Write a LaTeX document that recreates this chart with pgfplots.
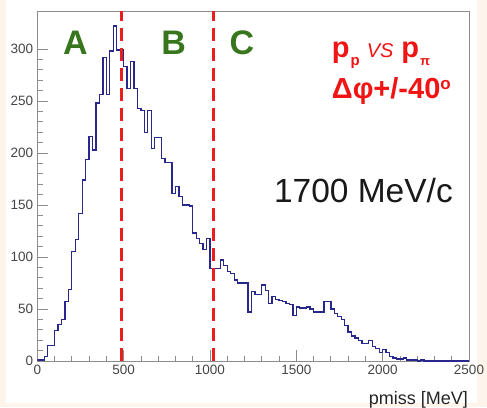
\documentclass[border=0pt]{standalone}
\usepackage{pgfplots}
\usepackage{pgfplotstable}
\pgfplotsset{compat=1.18}
\usepackage{fontspec}
\setmainfont{Liberation Sans}
\definecolor{peach}{RGB}{253,245,236}
\definecolor{histblue}{RGB}{40,40,140}
\definecolor{dgreen}{RGB}{56,118,29}
\definecolor{framegray}{RGB}{140,140,140}
\definecolor{labgray}{RGB}{70,70,70}
\definecolor{dashred}{RGB}{235,30,30}
\definecolor{txtred}{RGB}{240,20,20}

\pgfplotstableread{
x y
0 1
20 1
40 4
60 15
80 15
100 29
120 35
140 40
160 57
180 69
200 105
220 117
240 142
260 174
280 194
300 216
320 203
340 248
360 256
380 292
400 256
420 298
440 322
460 299
480 299
500 283
520 262
540 288
560 262
580 243
600 241
620 220
640 241
660 204
680 215
700 215
720 195
740 191
760 191
780 161
800 168
820 158
840 150
860 150
880 149
900 123
920 118
940 113
960 107
980 118
1000 89
1020 89
1040 89
1060 97
1080 92
1100 86
1120 84
1140 78
1160 75
1180 75
1200 75
1220 47
1240 67
1260 64
1280 64
1300 73
1320 68
1340 55
1360 62
1380 59
1400 58
1420 57
1440 55
1460 54
1480 44
1500 52
1520 51
1540 51
1560 52
1580 50
1600 47
1620 47
1640 47
1660 57
1680 57
1700 50
1720 46
1740 43
1760 40
1780 34
1800 28
1820 24
1840 22
1860 20
1880 17
1900 17
1920 20
1940 14
1960 12
1980 8
2000 11
2020 8
2040 4
2060 3
2080 2
2100 2
2120 3
2140 1
2160 1
2180 1
2200 0
2220 1
2240 0
2260 0
2280 0
2300 0
2320 0
2340 0
2360 0
2380 0
2400 0
2420 0
2440 0
2460 0
2480 0
2500 0
}\hist

\begin{document}
\begin{tikzpicture}[x=1pt,y=1pt]
\fill[peach] (0,0) rectangle (487,407);
\fill[white] (6,4) rectangle (477,407);
\path[use as bounding box] (0,0) rectangle (487,407);
\begin{axis}[
  at={(37.3pt,46pt)}, anchor=south west,
  scale only axis, width=431.7pt, height=350pt,
  xmin=0, xmax=2500, ymin=0, ymax=336.5,
  xtick={0,500,...,2500}, ytick={0,50,...,300},
  minor x tick num=4, minor y tick num=4,
  xtick pos=bottom, ytick pos=left,
  tick align=inside,
  major tick length=11pt, minor tick length=5.5pt,
  axis line style={framegray, line width=0.8pt},
  every tick/.style={framegray, line width=0.8pt},
  tick label style={font=\fontsize{13.5}{16}\selectfont, text=labgray, inner sep=0pt},
  xticklabel style={yshift=-4pt},
  yticklabel style={xshift=-4pt},
  /pgf/number format/assume math mode=true,
  /pgf/number format/1000 sep={},
  xlabel={pmiss [MeV]},
  xlabel style={at={(axis description cs:1,0)}, anchor=north east, inner sep=0pt, yshift=-30pt, xshift=-1pt, font=\fontsize{18}{20}\selectfont, text=black!85},
]
\addplot[histblue, line width=1.3pt, const plot mark left] table[x=x,y=y]{\hist};
\addplot[dashred, line width=3pt, dash pattern=on 13pt off 7pt] coordinates {(487,0) (487,336.5)};
\addplot[dashred, line width=3pt, dash pattern=on 13pt off 7pt] coordinates {(1020,0) (1020,336.5)};
\end{axis}
\node[inner sep=0pt, text=dgreen, font=\fontsize{34}{36}\selectfont\bfseries] at (75.5,364) {A};
\node[inner sep=0pt, text=dgreen, font=\fontsize{34}{36}\selectfont\bfseries] at (173.7,364) {B};
\node[inner sep=0pt, text=dgreen, font=\fontsize{34}{36}\selectfont\bfseries] at (242,364) {C};
\node[inner sep=0pt, anchor=base west, text=txtred] at (331.7,349) {{\fontsize{29}{30}\selectfont\bfseries p}\hspace{1pt}\raisebox{-8pt}{\fontsize{15}{16}\selectfont\bfseries p}\hspace{7pt}{\fontsize{20}{20}\selectfont\itshape VS}\hspace{8pt}{\fontsize{29}{30}\selectfont\bfseries p}\hspace{1pt}\raisebox{-8pt}{\fontsize{13}{14}\selectfont\bfseries π}};
\node[inner sep=0pt, anchor=base west, text=txtred] at (331.7,308) {\fontsize{29}{30}\selectfont\bfseries Δφ+/-40\raisebox{9pt}{\fontsize{17}{17}\selectfont o}};
\node[inner sep=0pt, anchor=base east, text=black!90, font=\fontsize{33.5}{36}\selectfont] at (453,204) {1700 MeV/c};
\end{tikzpicture}
\end{document}
